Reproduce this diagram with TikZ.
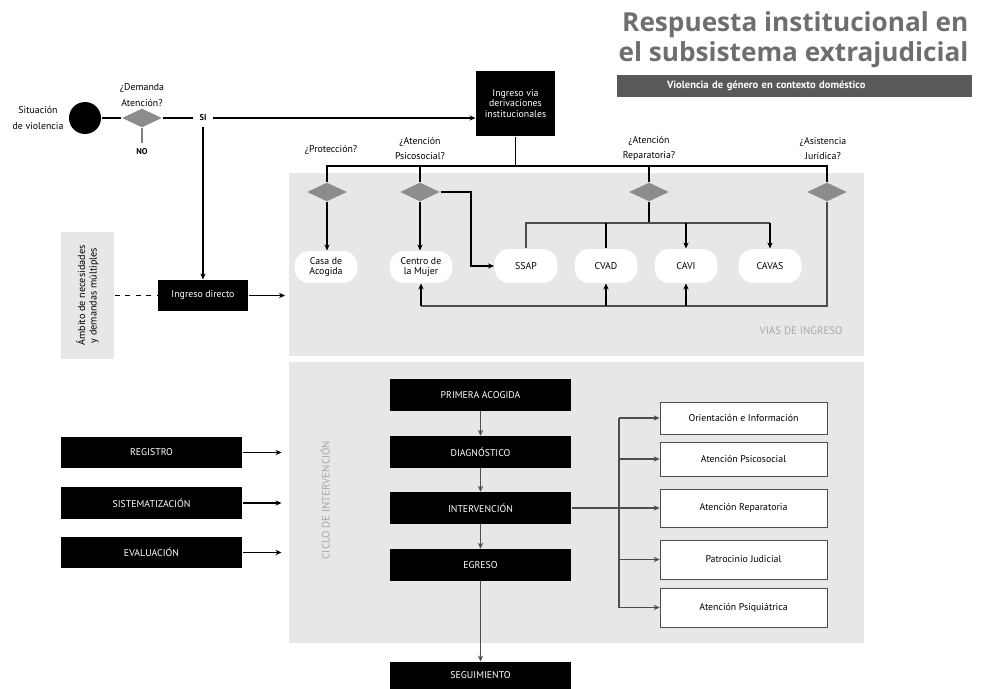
\documentclass[tikz,border=0pt]{standalone}
\usepackage{fontspec}
\setmainfont{PT Sans}
\newfontfamily\titfont{Open Sans}
\usepackage{xcolor}
\usepackage{tikz}
\usetikzlibrary{arrows.meta,calc,positioning,shapes.geometric}

\definecolor{fondo}{HTML}{E6E7E8}
\definecolor{gristit}{HTML}{6D6E71}
\definecolor{grisbarra}{HTML}{58595B}
\definecolor{grisrombo}{HTML}{8C8C8C}
\definecolor{grisrot}{HTML}{A7A9AC}
\definecolor{grisflecha}{HTML}{4D4D4D}

\tikzset{
  zona/.style={rectangle, fill=fondo, inner sep=0pt, minimum width=11.5cm},
  rombo/.style={diamond, fill=grisrombo, inner sep=0pt, minimum width=0.8cm, minimum height=0.38cm},
  pregunta/.style={align=center, font=\fontsize{5.6}{8.8}\selectfont},
  pildora/.style={rectangle, rounded corners=0.3cm, fill=white, align=center, minimum width=1.26cm, minimum height=0.64cm, inner sep=1pt, font=\fontsize{5.6}{6.2}\selectfont},
  negro/.style={rectangle, fill=black, text=white, align=center, inner sep=1pt, minimum width=3.62cm, minimum height=0.63cm},
  blanco/.style={rectangle, draw=grisflecha, line width=0.5pt, fill=white, minimum width=3.34cm, inner sep=1pt},
  rotulo/.style={text=grisrot, font=\fontsize{6.2}{7}\selectfont},
  sino/.style={font=\bfseries\fontsize{4.8}{5}\selectfont}
}

\begin{document}
\begin{tikzpicture}[x=0.02cm,y=-0.02cm,line width=0.6pt,>={Stealth[length=3.4pt,width=3pt]},
  font=\fontsize{5.6}{6.4}\selectfont]
\useasboundingbox (0,0) rectangle (981,689);

% zonas grises
\node[zona, minimum height=3.66cm] (viasbg) at (576.5,264.5) {};
\node[zona, minimum height=5.62cm] (ciclobg) at (576.5,502.5) {};
\node[rotulo, anchor=east] (viastxt) at (849,331) {VIAS DE INGRESO};
\node[rotulo, rotate=90] (ciclotxt) at (325,500) {CICLO DE INTERVENCIÓN};

% titulo
\node[anchor=north east, align=right, inner sep=0pt, text=gristit,
  font=\titfont\bfseries\fontsize{14.9}{17}\selectfont] (titulo) at (969,11)
  {Respuesta institucional en\\el subsistema extrajudicial};
\node[rectangle, fill=grisbarra, text=white, font=\bfseries\fontsize{6}{7}\selectfont,
  text width=5.1cm, align=left, inner xsep=1cm, inner ysep=0pt, minimum height=0.44cm] (subtit) at (794.5,86)
  {Violencia de género en contexto doméstico};

% entrada
\node[circle, fill=black, minimum size=0.64cm, inner sep=0pt] (sit) at (85,118) {};
\node[pregunta] (sittxt) at (38,118) {Situación\\de violencia};
\node[rombo] (dem) at (142,118) {};
\node[pregunta] (demtxt) at (142,95) {¿Demanda\\Atención?};
\node[sino] (no) at (142,152) {NO};
\node[sino] (si) at (203,118) {SI};
\draw (sit) -- (dem);
\draw[gray] (dem.south) -- (no.north);
\draw (dem.east) -- (si);
\node[negro, minimum width=1.58cm, minimum height=1.3cm, font=\fontsize{5.6}{5.8}\selectfont] (vias) at (515.5,103.5)
  {Ingreso via\\derivaciones\\institucionales};
\draw[->] (si) -- (si -| vias.west);

% ingreso directo
\node[rectangle, fill=fondo, rotate=90, minimum width=2.54cm, minimum height=1.06cm, align=center,
  font=\fontsize{5.8}{6.6}\selectfont] (ambito) at (87.5,295.5) {Ámbito de necesidades\\y demandas múltiples};
\node[negro, minimum width=1.8cm, minimum height=0.62cm] (directo) at (203,295.5) {Ingreso directo};
\draw[->] (si) -- (directo);
\draw[dashed] (ambito) -- (directo);
\draw[->, shorten >=2pt] (directo.east) -- (directo.east -| viasbg.west);

% preguntas de derivacion
\node[rombo] (dprot) at (327,192) {};
\node[rombo] (dpsi) at (420,192) {};
\node[rombo] (drep) at (649,192) {};
\node[rombo] (djur) at (827,192) {};
\node[pregunta] (qprot) at (331,150) {¿Protección?};
\node[pregunta] (qpsi) at (420,148.5) {¿Atención\\Psicosocial?};
\node[pregunta] (qrep) at (649,148.5) {¿Atención\\Reparatoria?};
\node[pregunta] (qjur) at (823,148.5) {¿Asistencia\\Jurídica?};
\coordinate (bus) at (515.5,166);
\draw (vias) -- (bus);
\draw (dprot.north) -- (dprot.north |- bus) -- (djur.north |- bus) -- (djur.north);
\draw (dpsi.north) -- (dpsi.north |- bus);
\draw (drep.north) -- (drep.north |- bus);

% vias de ingreso
\node[pildora] (casa) at (326,267) {Casa de\\Acogida};
\node[pildora] (centro) at (421,267) {Centro de\\la Mujer};
\node[pildora, minimum height=0.68cm] (ssap) at (526,266) {SSAP};
\node[pildora, minimum height=0.68cm] (cvad) at (606,266) {CVAD};
\node[pildora, minimum height=0.68cm] (cavi) at (686,266) {CAVI};
\node[pildora, minimum height=0.68cm] (cavas) at (770,266) {CAVAS};
\draw[->] (dprot.south) -- (casa.north -| dprot.south);
\draw[->] (dpsi.south) -- (centro.north -| dpsi.south);
\coordinate (kpsi) at (471,192);
\draw[->] (dpsi.east) -- (kpsi) |- (ssap.west);
\coordinate (rbus) at (649,223);
\draw (drep.south) -- (rbus);
\draw[grisflecha] (ssap.north) -- (ssap.north |- rbus) -- (cavas.north |- rbus);
\draw (cvad.north) -- (cvad.north |- rbus);
\draw[->] (cavi.north |- rbus) -- (cavi.north);
\draw[->] (cavas.north |- rbus) -- (cavas.north);
\coordinate (jbus) at (827,306);
\draw[grisflecha] (djur.south) -- (jbus) -- (centro.south |- jbus);
\draw[->] (centro.south |- jbus) -- (centro.south);
\draw[->] (cvad.south |- jbus) -- (cvad.south);
\draw[->] (cavi.south |- jbus) -- (cavi.south);

% gestion
\node[negro] (registro) at (151.5,452.5) {REGISTRO};
\node[negro] (sistema) at (151.5,503) {SISTEMATIZACIÓN};
\node[negro] (evalua) at (151.5,552.5) {EVALUACIÓN};
\draw[->, shorten >=4pt] (registro.east) -- (registro.east -| ciclobg.west);
\draw[->, shorten >=4pt] (sistema.east) -- (sistema.east -| ciclobg.west);
\draw[->, shorten >=4pt] (evalua.east) -- (evalua.east -| ciclobg.west);

% ciclo de intervencion
\node[negro] (primera) at (480.5,395) {PRIMERA ACOGIDA};
\node[negro] (diagno) at (480.5,452) {DIAGNÓSTICO};
\node[negro] (interv) at (480.5,508) {INTERVENCIÓN};
\node[negro] (egreso) at (480.5,565) {EGRESO};
\node[negro, minimum height=0.54cm] (seguim) at (480.5,675.5) {SEGUIMIENTO};
\draw[->, grisflecha] (primera) -- (diagno);
\draw[->, grisflecha] (diagno) -- (interv);
\draw[->, grisflecha] (interv) -- (egreso);
\draw[->, grisflecha] (egreso) -- (seguim);

\node[blanco, minimum height=0.64cm] (orient) at (743.5,418) {Orientación e Información};
\node[blanco, minimum height=0.68cm] (psico) at (743.5,459) {Atención Psicosocial};
\node[blanco, minimum height=0.76cm] (repar) at (743.5,508) {Atención Reparatoria};
\node[blanco, minimum height=0.78cm] (patro) at (743.5,559.5) {Patrocinio Judicial};
\node[blanco, minimum height=0.78cm] (psiq) at (743.5,607.5) {Atención Psiquiátrica};
\coordinate (sbus) at (619,508);
\draw[->, grisflecha] (interv.east) -- (repar.west);
\draw[grisflecha] (orient.west -| sbus) -- (psiq.west -| sbus);
\draw[->, grisflecha] (orient.west -| sbus) -- (orient.west);
\draw[->, grisflecha] (psico.west -| sbus) -- (psico.west);
\draw[->, grisflecha] (patro.west -| sbus) -- (patro.west);
\draw[->, grisflecha] (psiq.west -| sbus) -- (psiq.west);
\end{tikzpicture}
\end{document}
